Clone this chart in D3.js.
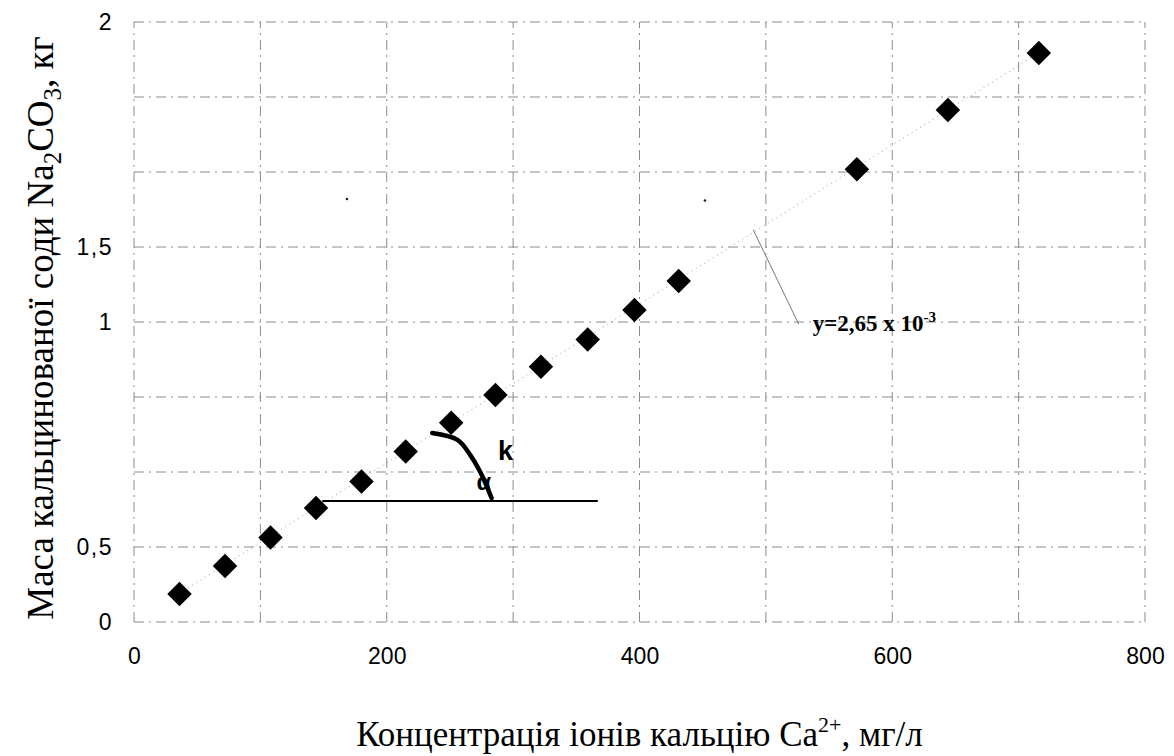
<!DOCTYPE html>
<html>
<head>
<meta charset="utf-8">
<script src="https://cdn.jsdelivr.net/npm/d3@7"></script>
<style>
  html, body { margin: 0; padding: 0; background: #fff; }
  svg { display: block; }
</style>
</head>
<body>
<svg id="chart" width="1174" height="756"></svg>
<script>
// ---- data ----
const concentration = [36, 72, 108, 144, 180, 215, 251, 286, 322, 359, 396, 431, 572, 644, 716];
const sodaMass = [0.093, 0.187, 0.282, 0.38, 0.468, 0.568, 0.664, 0.757, 0.851, 0.942, 1.04, 1.137, 1.509, 1.707, 1.897];
const xTickValues = [0, 200, 400, 600, 800];
const xTickLabels = ["0", "200", "400", "600", "800"];
const yTickValues = [0, 0.25, 1, 1.25, 2];
const yTickLabels = ["0", "0,5", "1", "1,5", "2"];
const xGrid = [0, 100, 200, 300, 400, 500, 600, 700, 800];
const yGrid = [0, 0.25, 0.5, 0.75, 1, 1.25, 1.5, 1.75, 2];
const trendSlope = 2.65e-3;
const trendLabel = ["y=2,65 x 10", "-3"];
// annotation geometry in data units
const angleBase = { x1: 149, x2: 367, y: 0.403 };
const arcX = [236, 256, 266, 274, 283];
const arcY = [0.63, 0.607, 0.557, 0.5, 0.413];
const leaderX = [490, 526];
const leaderY = [1.307, 0.993];
const labelAt = { x: 537, y: 0.97 };
const kAt = { x: 288, y: 0.54 };
const alphaAt = { x: 271, y: 0.44 };
const specksX = [168.5, 451.8];
const specksY = [1.41, 1.405];

// ---- chart ----
const svg = d3.select("#chart");
svg.append("rect").attr("width", 1174).attr("height", 756).attr("fill", "#fff");

const x = d3.scaleLinear().domain([0, 800]).range([134, 1145]);
const y = d3.scaleLinear().domain([0, 2]).range([622, 22]);

const grid = svg.append("g");
grid.selectAll("line.v").data(xGrid).join("line")
  .attr("class", "v")
  .attr("x1", d => x(d)).attr("x2", d => x(d))
  .attr("y1", y(0)).attr("y2", y(2))
  .attr("stroke", "#8a8a8a").attr("stroke-width", 1)
  .attr("stroke-dasharray", "10,5,2,5");
grid.selectAll("line.h").data(yGrid).join("line")
  .attr("class", "h")
  .attr("y1", d => y(d)).attr("y2", d => y(d))
  .attr("x1", x(0)).attr("x2", x(800))
  .attr("stroke", "#8a8a8a").attr("stroke-width", 1)
  .attr("stroke-dasharray", "10,5,2,5");

// axes
const xAxis = d3.axisBottom(x).tickValues(xTickValues)
  .tickFormat((d, i) => xTickLabels[i]).tickSize(0).tickPadding(26);
const gx = svg.append("g").attr("transform", `translate(0,${y(0)})`).call(xAxis);
gx.select(".domain").remove();
gx.selectAll("text").attr("font-family", "Liberation Sans, Arial, sans-serif")
  .attr("font-size", 23).attr("fill", "#000");

const yAxis = d3.axisLeft(y).tickValues(yTickValues)
  .tickFormat((d, i) => yTickLabels[i]).tickSize(0).tickPadding(21);
const gy = svg.append("g").attr("transform", `translate(${x(0)},0)`).call(yAxis);
gy.select(".domain").remove();
gy.selectAll("text").attr("font-family", "Liberation Sans, Arial, sans-serif")
  .attr("font-size", 23).attr("fill", "#000").attr("letter-spacing", 1.5);

// trend line (faint dotted)
const xs = [concentration[0], concentration[concentration.length - 1]];
svg.append("path")
  .attr("d", d3.line()(xs.map(v => [x(v), y(trendSlope * v)])))
  .attr("stroke", "#999").attr("stroke-width", 1)
  .attr("stroke-dasharray", "1,4").attr("fill", "none");

// leader line
svg.append("path")
  .attr("d", d3.line()(leaderX.map((v, i) => [x(v), y(leaderY[i])])))
  .attr("stroke", "#777").attr("stroke-width", 1).attr("fill", "none");

// horizontal base line for angle
svg.append("line")
  .attr("x1", x(angleBase.x1)).attr("x2", x(angleBase.x2))
  .attr("y1", y(angleBase.y)).attr("y2", y(angleBase.y))
  .attr("stroke", "#000").attr("stroke-width", 2);

// markers
const diamond = d3.symbol().type(d3.symbolSquare).size(300);
svg.append("g").selectAll("path").data(concentration).join("path")
  .attr("d", diamond)
  .attr("transform", (d, i) => `translate(${x(d)},${y(sodaMass[i])}) rotate(45)`)
  .attr("fill", "#000");

// arc arrow
svg.append("path")
  .attr("d", d3.line().curve(d3.curveCatmullRom)(arcX.map((v, i) => [x(v), y(arcY[i])])))
  .attr("stroke", "#000").attr("stroke-width", 4.5).attr("fill", "none")
  .attr("stroke-linecap", "round");

svg.append("text").attr("x", x(kAt.x)).attr("y", y(kAt.y))
  .attr("font-family", "Liberation Sans, Arial, sans-serif").attr("font-weight", "bold")
  .attr("font-size", 27).text("k");
svg.append("text").attr("x", x(alphaAt.x)).attr("y", y(alphaAt.y))
  .attr("font-family", "Liberation Sans, Arial, sans-serif").attr("font-weight", "bold")
  .attr("font-size", 24).text("α");

// equation label
const lbl = svg.append("text").attr("x", x(labelAt.x)).attr("y", y(labelAt.y))
  .attr("font-family", "Liberation Serif, Times New Roman, serif")
  .attr("font-weight", "bold").attr("font-size", 23);
lbl.append("tspan").text(trendLabel[0]);
lbl.append("tspan").attr("dy", -9).attr("font-size", 15).text(trendLabel[1]);

// specks
svg.append("g").selectAll("circle").data(specksX).join("circle")
  .attr("cx", d => x(d)).attr("cy", (d, i) => y(specksY[i])).attr("r", 1.3).attr("fill", "#222");

// axis titles
const xt = svg.append("text").attr("x", (x(0) + x(800)) / 2).attr("y", 746)
  .attr("text-anchor", "middle")
  .attr("font-family", "Liberation Serif, Times New Roman, serif").attr("font-size", 35);
xt.append("tspan").text("Концентрація іонів кальцію Ca");
xt.append("tspan").attr("dy", -14).attr("font-size", 22).text("2+");
xt.append("tspan").attr("dy", 14).text(", мг/л");

const yt = svg.append("text")
  .attr("transform", `translate(53,${(y(0) + y(2)) / 2 + 6}) rotate(-90)`)
  .attr("text-anchor", "middle")
  .attr("font-family", "Liberation Serif, Times New Roman, serif").attr("font-size", 37);
yt.append("tspan").text("Маса кальцинованої соди Na");
yt.append("tspan").attr("dy", 8).attr("font-size", 25).text("2");
yt.append("tspan").attr("dy", -8).text("CO");
yt.append("tspan").attr("dy", 8).attr("font-size", 25).text("3");
yt.append("tspan").attr("dy", -8).text(", кг");
</script>
</body>
</html>
